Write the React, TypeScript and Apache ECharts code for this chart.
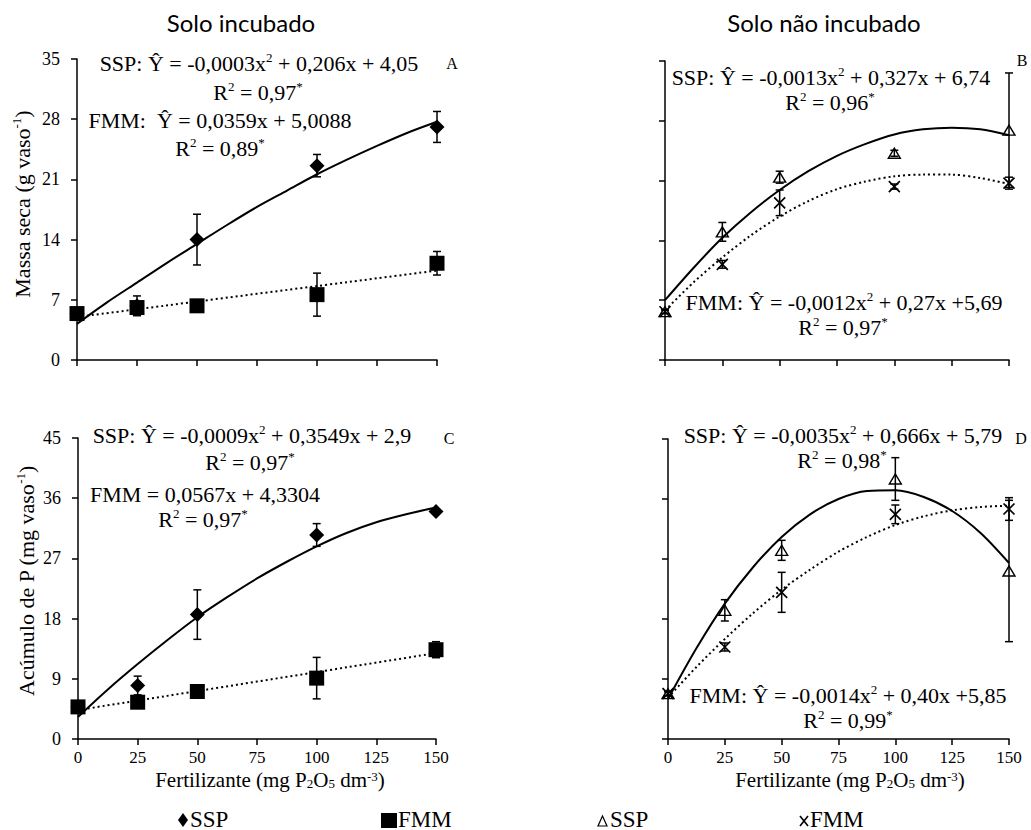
import React, { useEffect, useRef } from "react";
import * as echarts from "echarts";

// ---------- data ----------
const doses = [0, 25, 50, 100, 150];
const fitX = [0, 12.5, 25, 37.5, 50, 62.5, 75, 87.5, 100, 112.5, 125, 137.5, 150];
const lineX = [0, 150];
const xTicks = [0, 25, 50, 75, 100, 125, 150];

// Panel A – Massa seca, solo incubado
const aSSP = [5.4, 6.3, 14.0, 22.6, 27.1];
const aSSPErr = [0, 1.15, 2.95, 1.3, 1.8];
const aFMM = [5.4, 6.1, 6.3, 7.6, 11.25];
const aFMMErr = [0.3, 0, 0, 2.5, 1.37];
const aFitSSP = [4.2, 6.7, 9.0, 11.3, 13.5, 15.7, 17.8, 19.7, 21.6, 23.3, 24.9, 26.4, 27.7];
const aFitFMM = [5.0, 10.4];

// Panel B – Massa seca, solo não incubado
const bSSP = [5.65, 15.0, 21.4, 24.2, 26.9];
const bSSPErr = [0.2, 1.1, 0.7, 0.35, 6.7];
const bFMM = [5.65, 11.2, 18.4, 20.3, 20.7];
const bFMMErr = [0.2, 0.45, 1.5, 0.3, 0.7];
const bFitSSP = [7.0, 10.8, 14.3, 17.3, 19.9, 22.1, 23.9, 25.3, 26.4, 27.0, 27.2, 27.0, 26.3];
const bFitFMM = [5.8, 9.1, 12.0, 14.6, 16.8, 18.6, 20.0, 20.9, 21.5, 21.7, 21.7, 21.3, 20.6];

// Panel C – Acúmulo de P, solo incubado
const cSSP = [4.8, 8.0, 18.6, 30.5, 34.0];
const cSSPErr = [0, 1.4, 3.7, 1.7, 0.3];
const cFMM = [4.8, 5.5, 7.1, 9.1, 13.35];
const cFMMErr = [0.3, 0.4, 0.3, 3.1, 1.2];
const cFitSSP = [3.3, 7.4, 11.2, 14.8, 18.2, 21.2, 24.0, 26.5, 28.8, 30.8, 32.4, 33.6, 34.6];
const cFitFMM = [4.33, 12.84];

// Panel D – Acúmulo de P, solo não incubado
const dSSP = [6.8, 19.3, 28.3, 39.0, 25.2];
const dSSPErr = [0.3, 1.6, 1.5, 3.2, 10.6];
const dFMM = [6.8, 13.8, 22.0, 33.7, 34.5];
const dFMMErr = [0.3, 0.6, 3.0, 1.4, 1.7];
const dFitSSP = [6.0, 13.6, 20.3, 25.8, 30.3, 33.7, 36.0, 37.2, 37.3, 36.3, 34.2, 30.9, 26.4];
const dFitFMM = [6.2, 10.8, 15.0, 18.9, 22.4, 25.4, 28.1, 30.3, 32.1, 33.4, 34.3, 34.8, 35.0];

const yMaxMassa = 35;
const yStepMassa = 7;
const yMaxAcum = 45;
const yStepAcum = 9;

// ---------- helpers ----------
const SERIF = "'Liberation Serif', 'Times New Roman', serif";
const pairs = (xs: number[], ys: number[]) => xs.map((x, i) => [x, ys[i]]);
const triples = (xs: number[], ys: number[], es: number[]) =>
  xs.map((x, i) => [x, ys[i], es[i]]);

const errRender = (params: any, api: any) => {
  const x = api.value(0);
  const y = api.value(1);
  const e = api.value(2);
  if (!e) return { type: "group", children: [] };
  const top = api.coord([x, y + e]);
  const bot = api.coord([x, y - e]);
  const w = 4;
  const st = { stroke: "#000", lineWidth: 1.5 };
  return {
    type: "group",
    children: [
      { type: "line", shape: { x1: top[0], y1: top[1], x2: bot[0], y2: bot[1] }, style: st },
      { type: "line", shape: { x1: top[0] - w, y1: top[1], x2: top[0] + w, y2: top[1] }, style: st },
      { type: "line", shape: { x1: bot[0] - w, y1: bot[1], x2: bot[0] + w, y2: bot[1] }, style: st },
    ],
  };
};

const XMARK = "path://M0,0L10,10M10,0L0,10";

const markerStyles: any = {
  diamond: { symbol: "diamond", symbolSize: 15, itemStyle: { color: "#000", opacity: 1 } },
  square: { symbol: "rect", symbolSize: 15, itemStyle: { color: "#000", opacity: 1 } },
  triangle: {
    symbol: "triangle",
    symbolSize: [12, 10],
    itemStyle: { color: "rgba(0,0,0,0)", borderColor: "#000", borderWidth: 1.4, opacity: 1 },
  },
  cross: {
    symbol: XMARK,
    symbolSize: 11,
    itemStyle: { color: "rgba(0,0,0,0)", borderColor: "#000", borderWidth: 1.7, opacity: 1 },
  },
};

function panelSeries(
  idx: number,
  ssp: number[], sspErr: number[], sspMarker: string,
  fmm: number[], fmmErr: number[], fmmMarker: string,
  fitSSPx: number[], fitSSP: number[],
  fitFMMx: number[], fitFMM: number[]
) {
  const common = { xAxisIndex: idx, yAxisIndex: idx, silent: true };
  return [
    {
      ...common,
      type: "line",
      data: pairs(fitSSPx, fitSSP),
      smooth: 0.3,
      showSymbol: false,
      lineStyle: { color: "#000", width: 2 },
    },
    {
      ...common,
      type: "line",
      data: pairs(fitFMMx, fitFMM),
      smooth: 0.3,
      showSymbol: false,
      lineStyle: { color: "#000", width: 2, type: [2, 3] },
    },
    {
      ...common,
      type: "custom",
      renderItem: errRender,
      data: triples(doses, ssp, sspErr),
      encode: { x: 0, y: 1 },
      z: 3,
    },
    {
      ...common,
      type: "custom",
      renderItem: errRender,
      data: triples(doses, fmm, fmmErr),
      encode: { x: 0, y: 1 },
      z: 3,
    },
    {
      ...common,
      type: "scatter",
      data: pairs(doses, ssp),
      z: 4,
      ...markerStyles[sspMarker],
    },
    {
      ...common,
      type: "scatter",
      data: pairs(doses, fmm),
      z: 5,
      ...markerStyles[fmmMarker],
    },
  ];
}

const axisLine = { show: true, lineStyle: { color: "#000", width: 1.5 } };
const axisTick = { show: true, inside: false, length: 6, lineStyle: { color: "#000", width: 1.5 } };

function xAxis(grid: number, showLabel: boolean) {
  return {
    type: "value",
    gridIndex: grid,
    min: xTicks[0],
    max: xTicks[xTicks.length - 1],
    interval: 25,
    axisLine,
    axisTick,
    splitLine: { show: false },
    axisLabel: {
      show: showLabel,
      color: "#000",
      fontFamily: SERIF,
      fontSize: 17,
      lineHeight: 17,
      margin: 10,
    },
  };
}

function yAxis(grid: number, max: number, step: number, showLabel: boolean) {
  return {
    type: "value",
    gridIndex: grid,
    min: 0,
    max,
    interval: step,
    axisLine,
    axisTick,
    splitLine: { show: false },
    axisLabel: {
      show: showLabel,
      color: "#000",
      fontFamily: SERIF,
      fontSize: 18,
      margin: 17,
    },
  };
}

const RICH = {
  sup: { fontSize: 13, lineHeight: 13, verticalAlign: "top", fontFamily: SERIF, fill: "#000" },
  sub: { fontSize: 13, lineHeight: 13, verticalAlign: "bottom", fontFamily: SERIF, fill: "#000" },
};

function txt(text: string, x: number, y: number, size = 22, extra: any = {}, lh = 24) {
  const { style: extraStyle, ...rest } = extra;
  return {
    type: "text",
    x,
    y,
    silent: true,
    ...rest,
    style: {
      text,
      fontFamily: SERIF,
      fontSize: size,
      lineHeight: lh,
      fill: "#000",
      textAlign: "center",
      textVerticalAlign: "middle",
      rich: RICH,
      ...(extraStyle || {}),
    },
  };
}

const App: React.FC = () => {
  const ref = useRef<HTMLDivElement>(null);

  useEffect(() => {
    if (!ref.current) return;
    const chart = echarts.init(ref.current, undefined, { renderer: "svg" });

    const graphics: any[] = [
      // column titles
      {
        type: "text", x: 241, y: 22, silent: true,
        style: { text: "Solo incubado", fontFamily: "Lato, 'Open Sans', sans-serif", fontSize: 24, fill: "#000", textAlign: "center", textVerticalAlign: "middle" },
      },
      {
        type: "text", x: 824, y: 22, silent: true,
        style: { text: "Solo não incubado", fontFamily: "Lato, 'Open Sans', sans-serif", fontSize: 24, fill: "#000", textAlign: "center", textVerticalAlign: "middle" },
      },
      // Panel A
      txt("SSP: Ŷ = -0,0003x{sup|2} + 0,206x + 4,05", 259, 63),
      txt("A", 452, 63, 16),
      txt("R{sup|2} = 0,97{sup|*}", 258, 92),
      txt("FMM:  Ŷ = 0,0359x + 5,0088", 220, 120),
      txt("R{sup|2} = 0,89{sup|*}", 220, 148),
      // Panel B
      txt("SSP: Ŷ = -0,0013x{sup|2} + 0,327x + 6,74", 831, 77),
      txt("B", 1022, 60, 16),
      txt("R{sup|2} = 0,96{sup|*}", 830, 102),
      txt("FMM: Ŷ = -0,0012x{sup|2} + 0,27x +5,69", 844, 302),
      txt("R{sup|2} = 0,97{sup|*}", 843, 327),
      // Panel C
      txt("SSP: Ŷ = -0,0009x{sup|2} + 0,3549x + 2,9", 252, 435),
      txt("C", 449, 438, 16),
      txt("R{sup|2} = 0,97{sup|*}", 250, 462),
      txt("FMM = 0,0567x + 4,3304", 205, 494),
      txt("R{sup|2} = 0,97{sup|*}", 203, 519),
      // Panel D
      txt("SSP: Ŷ = -0,0035x{sup|2} + 0,666x + 5,79", 843, 435),
      txt("D", 1021, 438, 16),
      txt("R{sup|2} = 0,98{sup|*}", 842, 460),
      txt("FMM: Ŷ = -0,0014x{sup|2} + 0,40x +5,85", 848, 695),
      txt("R{sup|2} = 0,99{sup|*}", 848, 720),
      // axis titles
      txt("Massa seca (g vaso{sup|-1})", 22, 204, 22, { rotation: Math.PI / 2 }),
      txt("Acúmulo de P (mg vaso{sup|-1})", 26, 581, 22, { rotation: Math.PI / 2 }),
      txt("Fertilizante (mg P{sub|2}O{sub|5} dm{sup|-3})", 270, 780, 21, {}, 20),
      txt("Fertilizante (mg P{sub|2}O{sub|5} dm{sup|-3})", 850, 780, 21, {}, 20),
      // legend
      {
        type: "polygon", silent: true,
        shape: { points: [[183, 813], [188, 820], [183, 827], [178, 820]] },
        style: { fill: "#000" },
      },
      txt("SSP", 190, 819, 23, { style: { textAlign: "left" } }, 20),
      {
        type: "rect", silent: true,
        shape: { x: 381, y: 813, width: 16, height: 15 },
        style: { fill: "#000" },
      },
      txt("FMM", 398, 819, 23, { style: { textAlign: "left" } }, 20),
      {
        type: "polygon", silent: true,
        shape: { points: [[602.5, 816], [607, 826], [598, 826]] },
        style: { fill: "none", stroke: "#000", lineWidth: 1.2 },
      },
      txt("SSP", 610, 819, 23, { style: { textAlign: "left" } }, 20),
      {
        type: "line", silent: true,
        shape: { x1: 800, y1: 816, x2: 808, y2: 826 },
        style: { stroke: "#000", lineWidth: 1.6 },
      },
      {
        type: "line", silent: true,
        shape: { x1: 808, y1: 816, x2: 800, y2: 826 },
        style: { stroke: "#000", lineWidth: 1.6 },
      },
      txt("FMM", 810, 819, 23, { style: { textAlign: "left" } }, 20),
    ];

    const option: any = {
      animation: false,
      backgroundColor: "#fff",
      textStyle: { fontFamily: SERIF, color: "#000" },
      grid: [
        { left: 77, top: 59, width: 360, height: 301 },
        { left: 665, top: 61, width: 344, height: 299 },
        { left: 78, top: 438, width: 358, height: 301 },
        { left: 668, top: 439, width: 341, height: 300 },
      ],
      xAxis: [xAxis(0, false), xAxis(1, false), xAxis(2, true), xAxis(3, true)],
      yAxis: [
        yAxis(0, yMaxMassa, yStepMassa, true),
        yAxis(1, yMaxMassa, yStepMassa, false),
        yAxis(2, yMaxAcum, yStepAcum, true),
        yAxis(3, yMaxAcum, yStepAcum, false),
      ],
      series: [
        ...panelSeries(0, aSSP, aSSPErr, "diamond", aFMM, aFMMErr, "square", fitX, aFitSSP, lineX, aFitFMM),
        ...panelSeries(1, bSSP, bSSPErr, "triangle", bFMM, bFMMErr, "cross", fitX, bFitSSP, fitX, bFitFMM),
        ...panelSeries(2, cSSP, cSSPErr, "diamond", cFMM, cFMMErr, "square", fitX, cFitSSP, lineX, cFitFMM),
        ...panelSeries(3, dSSP, dSSPErr, "triangle", dFMM, dFMMErr, "cross", fitX, dFitSSP, fitX, dFitFMM),
      ],
      graphic: graphics,
    };

    chart.setOption(option);
    return () => chart.dispose();
  }, []);

  return (
    <div
      ref={ref}
      style={{ position: "absolute", left: 0, top: 0, width: 1031, height: 830, background: "#fff" }}
    />
  );
};

export default App;
